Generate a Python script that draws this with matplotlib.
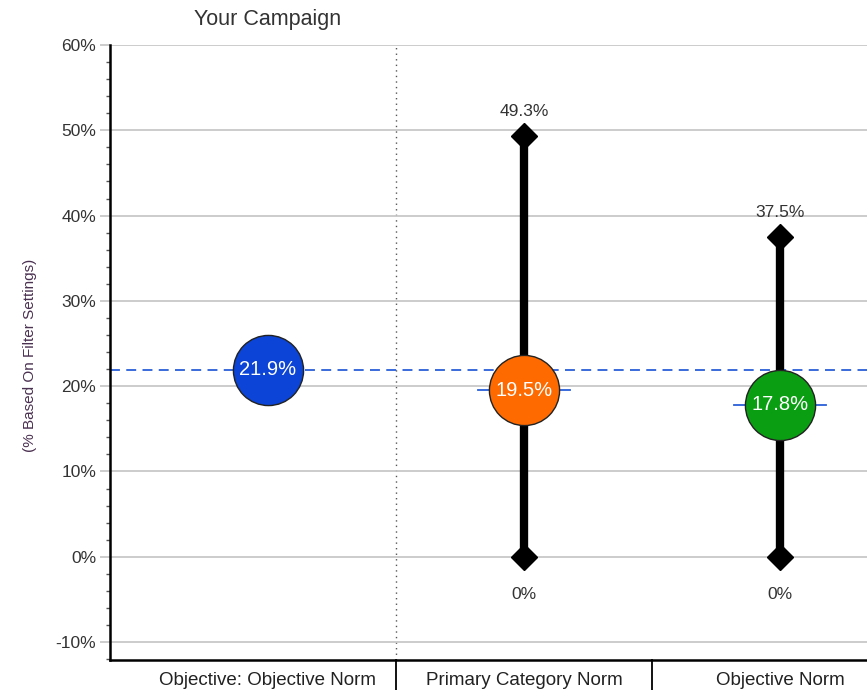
import matplotlib
matplotlib.use("Agg")
import matplotlib.pyplot as plt
from matplotlib.ticker import MultipleLocator, FuncFormatter
import matplotlib.transforms as mtransforms

plt.rcParams['font.family'] = ['Liberation Sans', 'DejaVu Sans']

# Data
categories = ["Objective: Objective Norm", "Primary Category Norm", "Objective Norm"]
values = [21.9, 19.5, 17.8]
range_low = [None, 0.0, 0.0]
range_high = [None, 49.3, 37.5]
colors = ["#0b44d6", "#ff6a00", "#0a9e12"]
campaign_value = 21.9
title_text = "Your Campaign"
ylabel_text = "(% Based On Filter Settings)"

fig = plt.figure(figsize=(8.67, 6.9), dpi=100)
ax = fig.add_axes([110 / 867, 30 / 690, 757 / 867, 615 / 690])

ax.set_xlim(-0.617, 2.34)
ax.set_ylim(-12.1, 60)

# Grid and ticks
ax.yaxis.set_major_locator(MultipleLocator(10))
ax.yaxis.set_minor_locator(MultipleLocator(2))
ax.yaxis.set_major_formatter(FuncFormatter(lambda v, p: f"{v:.0f}%"))
ax.grid(axis='y', which='major', color='#c8c8c8', linewidth=1.3, zorder=0)
ax.tick_params(axis='y', which='major', length=7, color='#c8c8c8', width=1.3,
               labelsize=12.5, labelcolor='#333333', pad=3)
ax.tick_params(axis='y', which='minor', length=3, color='#555555', width=1)
ax.set_xticks([])

for s in ['top', 'right']:
    ax.spines[s].set_visible(False)
ax.spines['left'].set_linewidth(1.8)
ax.spines['bottom'].set_linewidth(1.8)

# Campaign reference line
ax.axhline(campaign_value, color='#2a5fd8', linestyle=(0, (5.5, 3.5)), linewidth=1.3, zorder=2)

# Dotted divider after the campaign column
ax.axvline(0.5, color='#555555', linestyle=(0, (1, 3)), linewidth=1.0, zorder=1)

for i, (v, lo, hi, c) in enumerate(zip(values, range_low, range_high, colors)):
    if lo is not None:
        ax.plot([i, i], [lo, hi], color='black', linewidth=6, zorder=3,
                solid_capstyle='butt')
        ax.plot([i, i], [lo, hi], linestyle='none', marker='D', markersize=13,
                color='black', zorder=4)
        ax.plot([i - 0.18, i + 0.18], [v, v], color='#2a5fd8', linewidth=1.3, zorder=3)
        ax.annotate(f"{hi:.1f}%", (i, hi), xytext=(0, 17.5), textcoords='offset points',
                    ha='center', va='center', fontsize=12.5, color='#333333')
        ax.annotate(f"{lo:.0f}%", (i, lo), xytext=(0, -27), textcoords='offset points',
                    ha='center', va='center', fontsize=12.5, color='#333333')
    ax.plot([i], [v], marker='o', markersize=50.5, markerfacecolor=c,
            markeredgecolor='#222222', markeredgewidth=1.0, zorder=5)
    ax.text(i, v, f"{v:.1f}%", ha='center', va='center', fontsize=14.5,
            color='white', zorder=6)

# Category labels and separators below the axis
trans = mtransforms.blended_transform_factory(ax.transData, ax.transAxes)
for i, name in enumerate(categories):
    ax.text(i, -0.033, name, transform=trans, ha='center', va='center',
            fontsize=13.5, color='#222222', clip_on=False)
for b in [0.5, 1.5]:
    ax.plot([b, b], [0, -0.06], transform=trans, color='black', linewidth=1.3,
            clip_on=False)

fig.text(268 / 867, 1 - 19 / 690, title_text, ha='center', va='center',
         fontsize=15.5, color='#333333')
fig.text(30 / 867, 1 - 355 / 690, ylabel_text, rotation=90, ha='center', va='center',
         fontsize=11, color='#4a3050')

fig.savefig("out.png", dpi=100)
